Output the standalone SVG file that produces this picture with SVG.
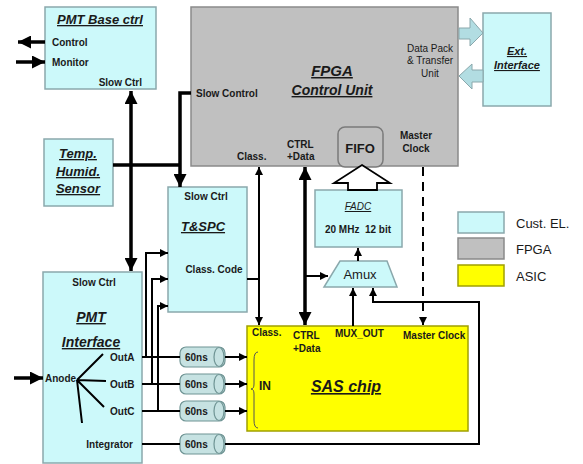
<svg xmlns="http://www.w3.org/2000/svg" width="583" height="464" viewBox="0 0 583 464">
<defs>
<style>
text{font-family:"Liberation Sans",Arial,sans-serif;fill:#1a1a1a}
.b{font-weight:bold}
.t{font-weight:bold;font-style:italic;text-decoration:underline}
.s{font-size:10px;font-weight:bold}
.cust{fill:#ccf9fa;stroke:#8aa8ac;stroke-width:1.5}
.fpga{fill:#c0c0c0;stroke:#8a8a8a;stroke-width:1.5}
.asic{fill:#ffff00;stroke:#a0a000;stroke-width:1.5}
.w{fill:none;stroke:#000;stroke-width:2}
.k{fill:none;stroke:#000;stroke-width:3.5}
.cyl{fill:#c6e2e2;stroke:#6f9494;stroke-width:1.2}
.blk{fill:#b2dde2;stroke:#8aa8ac;stroke-width:1}
</style>
<marker id="a" viewBox="0 0 10 10" refX="10" refY="5" markerWidth="8" markerHeight="8" markerUnits="userSpaceOnUse" orient="auto-start-reverse"><path d="M0,0L10,5L0,10z"/></marker>
<marker id="A" viewBox="0 0 10 10" refX="10" refY="5" markerWidth="13" markerHeight="13" markerUnits="userSpaceOnUse" orient="auto-start-reverse"><path d="M0,0L10,5L0,10z"/></marker>
</defs>
<rect width="583" height="464" fill="#fff"/>

<g id="fpga">
<rect class="fpga" x="191" y="7" width="267" height="159"/>
<text class="t" x="332" y="76" font-size="15" text-anchor="middle">FPGA</text>
<text class="t" x="332" y="95" font-size="14" text-anchor="middle">Control Unit</text>
<text class="s" x="196" y="97">Slow Control</text>
<text class="s" x="237" y="160">Class.</text>
<text class="s" x="287" y="148">CTRL</text>
<text class="s" x="287" y="160">+Data</text>
<text class="s" x="416" y="139" text-anchor="middle">Master</text>
<text class="s" x="416" y="152" text-anchor="middle">Clock</text>
<text x="430" y="52" font-size="10" text-anchor="middle">Data Pack</text>
<text x="430" y="64" font-size="10" text-anchor="middle">&amp; Transfer</text>
<text x="430" y="77" font-size="10" text-anchor="middle">Unit</text>
</g>
<g id="fifo">
<rect x="338" y="127" width="45" height="40" rx="7" fill="#c0c0c0" stroke="#7a7a7a" stroke-width="1.5"/>
<text class="b" x="360" y="153" font-size="13" text-anchor="middle">FIFO</text>
</g>
<g id="pmt-base">
<rect class="cust" x="45" y="7" width="111" height="82"/>
<text class="t" x="100" y="24" font-size="13" text-anchor="middle">PMT Base ctrl</text>
<text class="s" x="52" y="46">Control</text>
<text class="s" x="52" y="66">Monitor</text>
<text class="s" x="142" y="86" text-anchor="end">Slow Ctrl</text>
</g>
<g id="ext">
<rect class="cust" x="483" y="13" width="68" height="93"/>
<text class="t" x="517" y="55" font-size="11" text-anchor="middle">Ext.</text>
<text class="t" x="517" y="69" font-size="11" text-anchor="middle">Interface</text>
</g>
<g id="temp">
<rect class="cust" x="44" y="139" width="69" height="67"/>
<text class="t" x="78" y="158" font-size="13" text-anchor="middle">Temp.</text>
<text class="t" x="78" y="176" font-size="13" text-anchor="middle">Humid.</text>
<text class="t" x="78" y="193" font-size="13" text-anchor="middle">Sensor</text>
</g>
<g id="tspc">
<rect class="cust" x="168" y="187" width="79" height="125"/>
<text class="s" x="206" y="200" text-anchor="middle">Slow Ctrl</text>
<text class="t" x="203" y="231" font-size="13" text-anchor="middle">T&amp;SPC</text>
<text class="s" x="214" y="273" text-anchor="middle">Class. Code</text>
</g>
<g id="fadc">
<rect class="cust" x="315" y="190" width="87" height="57"/>
<text x="358" y="210" font-size="10" font-style="italic" text-decoration="underline" text-anchor="middle">FADC</text>
<text class="s" x="358" y="233" text-anchor="middle" xml:space="preserve" style="white-space:pre">20 MHz  12 bit</text>
</g>
<g id="amux">
<polygon class="cust" points="340,261 387,261 397,287 324,287"/>
<text x="360" y="279" font-size="13" text-anchor="middle">Amux</text>
</g>
<g id="pmt-interface">
<rect class="cust" x="43" y="272" width="99" height="191"/>
<text class="s" x="94" y="286" text-anchor="middle">Slow Ctrl</text>
<text class="t" x="91" y="322" font-size="14" text-anchor="middle">PMT</text>
<text class="t" x="91" y="347" font-size="14" text-anchor="middle">Interface</text>
<text class="s" x="45" y="382" font-size="9.5">Anode</text>
<text class="s" x="110" y="361">OutA</text>
<text class="s" x="110" y="388">OutB</text>
<text class="s" x="110" y="415">OutC</text>
<text class="s" x="133" y="448" text-anchor="end">Integrator</text>
<path class="w" d="M77,380L103,354M77,380L106,381M77,380L104,407M77,380L82,423" stroke-width="1.6"/>
</g>
<g id="sas">
<rect class="asic" x="247" y="326" width="221" height="105"/>
<text class="s" x="252" y="336">Class.</text>
<text class="s" x="293" y="339">CTRL</text>
<text class="s" x="293" y="352">+Data</text>
<text class="s" x="335" y="337">MUX_OUT</text>
<text class="s" x="403" y="339">Master Clock</text>
<text class="b" x="259" y="390" font-size="12">IN</text>
<path d="M258,352Q254,352 254,360L254,384Q254,389 251,389Q254,389 254,394L254,420Q254,428 258,428" fill="none" stroke="#555" stroke-width="1"/>
<text class="t" x="346" y="392" font-size="16" text-anchor="middle">SAS chip</text>
</g>
<g id="delays">
<rect class="cyl" x="180" y="347" width="45" height="20" rx="6"/><ellipse class="cyl" cx="219" cy="357" rx="5" ry="9.5"/><text class="s" x="185" y="361">60ns</text>
<rect class="cyl" x="180" y="374" width="45" height="20" rx="6"/><ellipse class="cyl" cx="219" cy="384" rx="5" ry="9.5"/><text class="s" x="185" y="388">60ns</text>
<rect class="cyl" x="180" y="401" width="45" height="20" rx="6"/><ellipse class="cyl" cx="219" cy="411" rx="5" ry="9.5"/><text class="s" x="185" y="415">60ns</text>
<rect class="cyl" x="180" y="434" width="45" height="20" rx="6"/><ellipse class="cyl" cx="219" cy="444" rx="5" ry="9.5"/><text class="s" x="185" y="448">60ns</text>
</g>
<g id="legend">
<rect class="cust" x="458" y="212" width="46" height="21"/>
<rect class="fpga" x="458" y="238" width="46" height="21"/>
<rect class="asic" x="458" y="265" width="46" height="21"/>
<text x="516" y="228" font-size="13">Cust. EL.</text>
<text x="516" y="254" font-size="13">FPGA</text>
<text x="516" y="281" font-size="13">ASIC</text>
</g>
<g id="connectors">
<line class="k" x1="45" y1="42" x2="18" y2="42" stroke-width="4" marker-end="url(#A)"/>
<line class="k" x1="16" y1="62" x2="45" y2="62" stroke-width="4" marker-end="url(#A)"/>
<line class="k" x1="14" y1="378" x2="43" y2="378" stroke-width="4" marker-end="url(#A)"/>
<line class="k" x1="131" y1="91" x2="131" y2="271" marker-start="url(#A)" marker-end="url(#A)"/>
<line class="k" x1="113" y1="165" x2="180" y2="165"/>
<polyline class="k" points="191,93 180,93 180,187" marker-end="url(#A)"/>
<line class="w" x1="259" y1="167" x2="259" y2="325" marker-start="url(#a)" marker-end="url(#a)"/>
<line class="w" x1="247" y1="279" x2="259" y2="279"/>
<line class="k" x1="305" y1="167" x2="305" y2="325" marker-start="url(#A)" marker-end="url(#A)"/>
<line class="w" x1="305" y1="276" x2="328" y2="276" marker-end="url(#a)"/>
<polygon points="362,165 390,183 377,183 377,190 348,190 348,183 334,183" fill="#fff" stroke="#000" stroke-width="1.8"/>
<line class="w" x1="358" y1="261" x2="358" y2="248" marker-end="url(#a)"/>
<line class="w" x1="353" y1="326" x2="353" y2="288" marker-end="url(#a)"/>
<polyline class="w" points="225,444 479,444 479,302 373,302 373,288" marker-end="url(#a)"/>
<line class="w" x1="142" y1="444" x2="180" y2="444"/>
<line class="w" x1="423" y1="167" x2="423" y2="325" stroke-dasharray="9,6" marker-end="url(#a)"/>
<line class="w" x1="142" y1="357" x2="180" y2="357"/>
<line class="w" x1="142" y1="384" x2="180" y2="384"/>
<line class="w" x1="142" y1="411" x2="180" y2="411"/>
<line class="w" x1="225" y1="357" x2="247" y2="357" marker-end="url(#a)"/>
<line class="w" x1="225" y1="384" x2="247" y2="384" marker-end="url(#a)"/>
<line class="w" x1="225" y1="411" x2="247" y2="411" marker-end="url(#a)"/>
<polyline class="w" points="146,357 146,253 168,253" marker-end="url(#a)"/>
<polyline class="w" points="152,384 152,279 168,279" marker-end="url(#a)"/>
<polyline class="w" points="158,411 158,306 168,306" marker-end="url(#a)"/>
<polygon class="blk" points="459,28 470,28 470,18 483,33 470,46 470,39 459,39"/>
<polygon class="blk" points="483,70 472,70 472,64 459,76 472,89 472,82 483,82"/>
</g>
</svg>
